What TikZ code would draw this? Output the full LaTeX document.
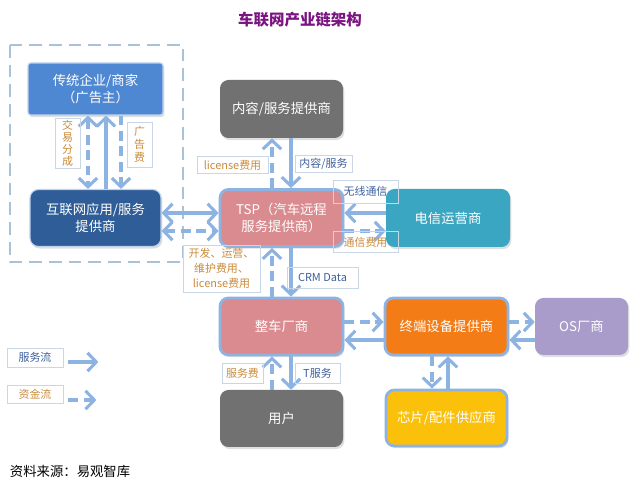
\documentclass[tikz,border=0pt]{standalone}
\usepackage{fontspec}
\setmainfont{Noto Sans CJK SC}
\usetikzlibrary{arrows.meta,positioning,calc,shadows}
\definecolor{flowc}{HTML}{8DB3E2}
\definecolor{framec}{HTML}{A9C2D8}
\definecolor{tagline}{HTML}{C9D6E6}
\definecolor{moneyt}{HTML}{C98A3A}
\definecolor{servt}{HTML}{3F5F9C}
\definecolor{titlec}{HTML}{7A1481}
\definecolor{adc}{HTML}{4F88D2}
\definecolor{netc}{HTML}{2E5D97}
\definecolor{greyc}{HTML}{717171}
\definecolor{pinkc}{HTML}{D98B8F}
\definecolor{telc}{HTML}{3BA6C2}
\definecolor{termc}{HTML}{F47C16}
\definecolor{osc}{HTML}{A99CCA}
\definecolor{chipc}{HTML}{FBC00A}
\tikzset{
  wh/.style 2 args={minimum width=#1*0.025cm,minimum height=#2*0.025cm},
  blk/.style={rounded corners=6pt,text=white,align=center,inner sep=0pt,
    font=\fontsize{9.5}{12.5}\selectfont,
    drop shadow={opacity=0.25,shadow xshift=1pt,shadow yshift=-1.5pt}},
  rim/.style={blk,draw=flowc,line width=2pt},
  fl/.style={draw=flowc,line width=2.2pt},
  pay/.style={fl,dash pattern=on 7pt off 4pt},
  tag/.style={draw=tagline,line width=0.6pt,inner sep=0pt,align=center,
    font=\fontsize{7.8}{10.5}\selectfont},
  mtag/.style={tag,text=moneyt},
  stag/.style={tag,text=servt},
}

\begin{document}
\begin{tikzpicture}[x=0.025cm,y=-0.025cm,>={Straight Barb[length=2.2mm,width=4.6mm]}]
  \useasboundingbox (0,0) rectangle (640,490);
  \node[font=\bfseries\fontsize{11}{13}\selectfont,text=titlec] (title) at (300,20) {车联网产业链架构};
  % internet side
  \draw[framec,line width=1.5pt,dash pattern=on 9pt off 5pt] (10,45) rectangle (183,262);
  \node[blk,fill=adc,draw=flowc!60,line width=0.8pt,rounded corners=2pt,wh={135}{52}] (ad) at (95.5,89) {传统企业/商家\\（广告主）};
  \node[blk,fill=netc,draw=flowc!60,line width=0.8pt,wh={131}{57}] (net) at (95.5,218) {互联网应用/服务\\提供商};
  % middle column
  \node[blk,fill=greyc,wh={123}{58}] (cont) at (281.5,109) {内容/服务提供商};
  \node[rim,fill=pinkc,wh={123}{57}] (tsp) at (281.5,218) {TSP（汽车远程\\服务提供商）};
  \node[blk,fill=telc,wh={124}{58}] (tel) at (448,218) {电信运营商};
  \node[rim,fill=pinkc,wh={123}{57}] (oem) at (281.5,326.5) {整车厂商};
  \node[rim,fill=termc,wh={123}{57}] (term) at (446.5,326.5) {终端设备提供商};
  \node[blk,fill=osc,wh={93}{57}] (os) at (581.5,326.5) {OS厂商};
  \node[blk,fill=greyc,wh={123}{57}] (user) at (281.5,418.5) {用户};
  \node[rim,fill=chipc,wh={121}{56}] (chip) at (446.5,418) {芯片/配件供应商};

  % flows
  \draw[pay,<->] ($(ad.south)+(-7.5,0)$) -- ($(net.north)+(-7.5,0)$);
  \draw[fl,->] ($(net.north)+(10.5,0)$) -- ($(ad.south)+(10.5,0)$);
  \draw[pay,->] ($(ad.south)+(25.5,0)$) -- ($(net.north)+(25.5,0)$);
  \draw[fl,<->] ($(net.east)+(0,-5)$) -- ($(tsp.west)+(0,-5)$);
  \draw[pay,<->] ($(net.east)+(0,13)$) -- ($(tsp.west)+(0,13)$);
  \draw[fl,->] ($(tel.west)+(0,-5)$) -- ($(tsp.east)+(0,-5)$);
  \draw[pay,->] ($(tsp.east)+(0,13)$) -- ($(tel.west)+(0,13)$);
  \foreach \hi/\lo in {cont/tsp,tsp/oem,oem/user} {
    \draw[pay,->] ($(\lo.north)+(-9.5,0)$) -- ($(\hi.south)+(-9.5,0)$);
    \draw[fl,->] ($(\hi.south)+(9.5,0)$) -- ($(\lo.north)+(9.5,0)$);
  }
  \foreach \l/\r in {oem/term,term/os} {
    \draw[pay,->] ($(\l.east)+(0,-4.5)$) -- ($(\r.west)+(0,-4.5)$);
    \draw[fl,->] ($(\r.west)+(0,13.5)$) -- ($(\l.east)+(0,13.5)$);
  }
  \draw[pay,->] ($(term.south)+(-14.5,0)$) -- ($(chip.north)+(-14.5,0)$);
  \draw[fl,->] ($(chip.north)+(1.5,0)$) -- ($(term.south)+(1.5,0)$);

  % labels
  \node[mtag,wh={25}{50},font=\fontsize{7.8}{8.6}\selectfont] (share) at (67.5,143) {交\\易\\分\\成};
  \node[mtag,wh={25}{45},font=\fontsize{7.8}{9.4}\selectfont] (adfee) at (139.5,144.5) {广\\告\\费};
  \node[mtag,wh={71}{17}] (lic) at (232.5,165) {license费用};
  \node[stag,wh={57}{17}] (csv) at (323.5,163.5) {内容/服务};
  \node[stag,wh={65}{23}] (wl) at (365.5,191.5) {无线通信};
  \node[mtag,wh={65}{21}] (comfee) at (365.5,242) {通信费用};
  \node[mtag,wh={77}{47}] (dev) at (221.5,268.5) {开发、运营、\\维护费用、\\license费用};
  \node[stag,wh={71}{21}] (crm) at (322.5,277.5) {CRM Data};
  \node[mtag,wh={41}{20}] (svfee) at (242.5,373) {服务费};
  \node[stag,wh={45}{20}] (tsv) at (317.5,373) {T服务};

  % legend
  \node[stag,wh={56}{19}] (lg1) at (35,357.5) {服务流};
  \node[mtag,wh={56}{18}] (lg2) at (35,394) {资金流};
  \draw[fl,->] ($(lg1.east)+(5,4.5)$) -- ++(30,0);
  \draw[pay,->] ($(lg2.east)+(5,6)$) -- ++(28,0);

  \node[anchor=west,font=\fontsize{9.5}{11}\selectfont] (src) at (5,471) {资料来源：易观智库};
\end{tikzpicture}
\end{document}
